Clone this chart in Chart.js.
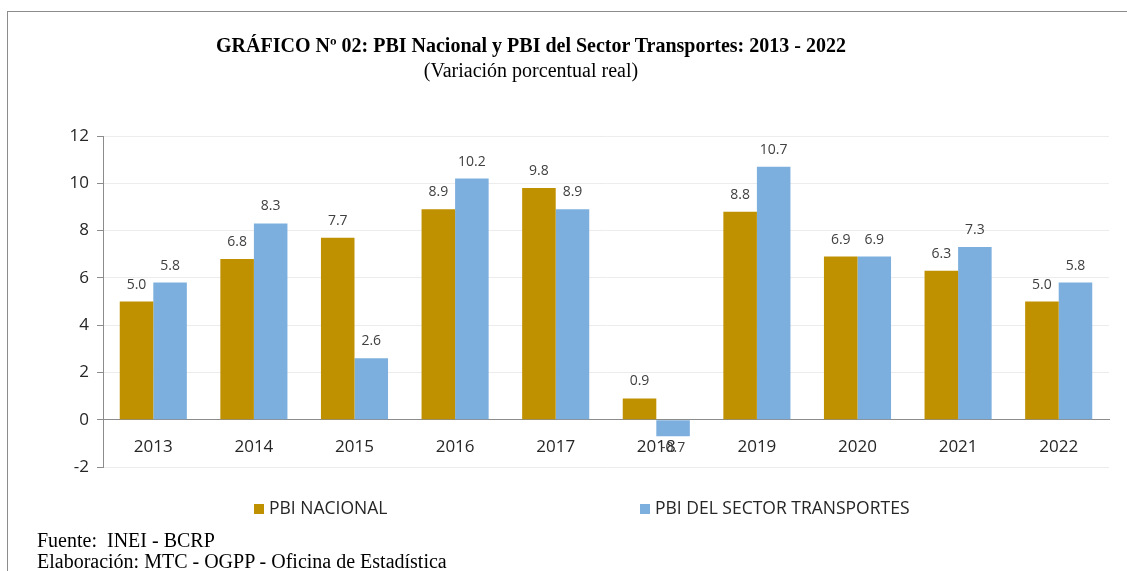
<!DOCTYPE html>
<html>
<head>
<meta charset="utf-8">
<script src="https://cdn.jsdelivr.net/npm/chart.js@4.4.0/dist/chart.umd.min.js"></script>
<style>
    body { margin: 0; background: #fff; }
    #wrap { position: relative; width: 1127px; height: 571px; overflow: hidden; }
    #marco { position: absolute; left: 7px; top: 11px; width: 1130px; height: 570px; border: 1px solid #8c8c8c; box-sizing: border-box; }
    #grafico { position: absolute; left: 0; top: 0; }
    .serif { position: absolute; font-family: "Liberation Serif", "Times New Roman", serif; color: #000; white-space: nowrap; font-size: 20px; line-height: 23px; }
    #titulo { left: 0; width: 1062px; top: 34px; text-align: center; font-weight: bold; }
    #subtitulo { left: 0; width: 1062px; top: 59px; text-align: center; }
    #fuente { left: 37px; top: 529px; }
    #elaboracion { left: 37px; top: 550px; }
    .leyenda { position: absolute; top: 496px; font-family: "Open Sans", sans-serif; font-size: 17.5px; line-height: 22px; color: #262626; white-space: nowrap; }
    .leyenda span { display: inline-block; width: 10px; height: 10px; margin-right: 5px; }
</style>
</head>
<body>
<div id="wrap">
    <div id="marco"></div>
    <canvas id="grafico" width="1127" height="571"></canvas>
    <div id="titulo" class="serif">GRÁFICO Nº 02: PBI Nacional y PBI del Sector Transportes: 2013 - 2022</div>
    <div id="subtitulo" class="serif">(Variación porcentual real)</div>
    <div id="leyendaBox"></div>
    <div id="fuente" class="serif">Fuente:&nbsp; INEI - BCRP</div>
    <div id="elaboracion" class="serif">Elaboración: MTC - OGPP - Oficina de Estadística</div>
</div>
<script>
const anios = ['2013', '2014', '2015', '2016', '2017', '2018', '2019', '2020', '2021', '2022'];
const pbiNacional = [5.0, 6.8, 7.7, 8.9, 9.8, 0.9, 8.8, 6.9, 6.3, 5.0];
const pbiTransportes = [5.8, 8.3, 2.6, 10.2, 8.9, -0.7, 10.7, 6.9, 7.3, 5.8];
const nombresSeries = ['PBI NACIONAL', 'PBI DEL SECTOR TRANSPORTES'];
const coloresSeries = ['#bf9000', '#7cafdd'];
const ejeY = { min: -2, max: 12, paso: 2 };

// etiquetas de valor encima / debajo de cada barra
const etiquetasPlugin = {
    id: 'etiquetas',
    afterDatasetsDraw(chart) {
        const ctx = chart.ctx;
        ctx.save();
        ctx.font = '14px "Open Sans", sans-serif';
        ctx.fillStyle = '#404040';
        ctx.textAlign = 'center';
        ctx.textBaseline = 'alphabetic';
        chart.data.datasets.forEach((ds, i) => {
            chart.getDatasetMeta(i).data.forEach((bar, j) => {
                const v = ds.data[j];
                const txt = v.toFixed(1);
                if (v >= 0) {
                    ctx.fillText(txt, bar.x, bar.y - 13);
                } else {
                    ctx.fillText(txt, bar.x, bar.y + 16);
                }
            });
        });
        ctx.restore();
    }
};

new Chart(document.getElementById('grafico'), {
    type: 'bar',
    data: {
        labels: anios,
        datasets: [
            { label: nombresSeries[0], data: pbiNacional, backgroundColor: coloresSeries[0], categoryPercentage: 0.667, barPercentage: 1.0 },
            { label: nombresSeries[1], data: pbiTransportes, backgroundColor: coloresSeries[1], categoryPercentage: 0.667, barPercentage: 1.0 }
        ]
    },
    options: {
        responsive: false,
        animation: false,
        layout: { padding: { left: 0, top: 136, right: 18, bottom: 104 } },
        plugins: { legend: { display: false }, tooltip: { enabled: false } },
        scales: {
            x: {
                position: { y: 0 },
                grid: { display: false, drawTicks: false },
                border: { display: true, color: '#8c8c8c', width: 1 },
                ticks: { color: '#262626', font: { family: '"Open Sans", sans-serif', size: 17 }, padding: 17, maxRotation: 0 }
            },
            y: {
                min: ejeY.min,
                max: ejeY.max,
                afterFit: s => { s.width = 103; },
                grid: {
                    color: c => c.tick && c.tick.value === 0 ? '#8c8c8c' : '#ececec',
                    tickColor: '#8c8c8c',
                    tickLength: 6
                },
                border: { display: true, color: '#8c8c8c', width: 1 },
                ticks: { stepSize: ejeY.paso, color: '#262626', font: { family: '"Open Sans", sans-serif', size: 17 }, padding: 8 }
            }
        }
    },
    plugins: [etiquetasPlugin]
});

// leyenda en HTML
const posLeyenda = [254, 640];
const caja = document.getElementById('leyendaBox');
nombresSeries.forEach((n, i) => {
    const d = document.createElement('div');
    d.className = 'leyenda';
    d.style.left = posLeyenda[i] + 'px';
    d.innerHTML = '<span style="background:' + coloresSeries[i] + '"></span>' + n;
    caja.appendChild(d);
});
</script>
</body>
</html>
